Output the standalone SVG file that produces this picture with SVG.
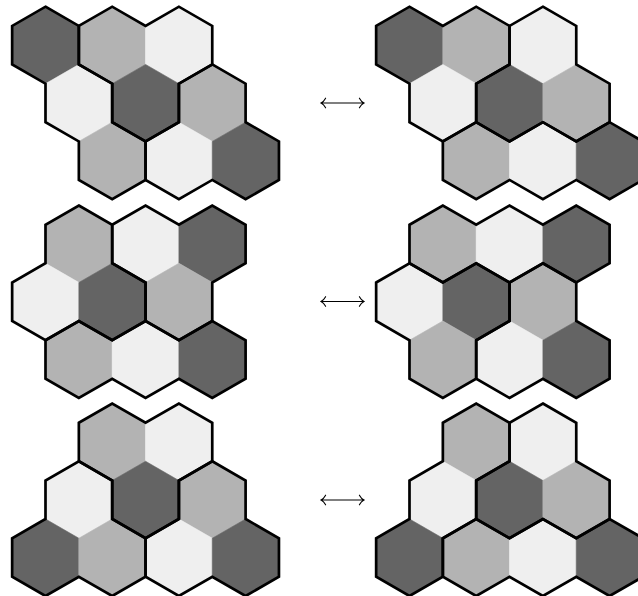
<svg xmlns="http://www.w3.org/2000/svg" width="638" height="596" viewBox="0 0 638 596">
<style>
.dk{fill:#646464;stroke:#646464}
.md{fill:#b3b3b3;stroke:#b3b3b3}
.lt{fill:#efefef;stroke:#efefef}
.tile{fill:none;stroke:#000000;stroke-width:2.7;stroke-linejoin:miter;vector-effect:non-scaling-stroke}
.arr{fill:none;stroke:#000000;stroke-width:1.1;stroke-linecap:round}
</style>
<defs>
<polygon id="h" points="0,-2 1,-1 1,1 0,2 -1,1 -1,-1" stroke-width="0.6" style="vector-effect:non-scaling-stroke"/>
<g id="cells1">
<use href="#h" x="1" y="2" class="dk"/><use href="#h" x="3" y="2" class="md"/><use href="#h" x="5" y="2" class="lt"/>
<use href="#h" x="2" y="5" class="lt"/><use href="#h" x="4" y="5" class="dk"/><use href="#h" x="6" y="5" class="md"/>
<use href="#h" x="3" y="8" class="md"/><use href="#h" x="5" y="8" class="lt"/><use href="#h" x="7" y="8" class="dk"/>
</g>
<g id="cells2">
<use href="#h" x="2" y="2" class="md"/><use href="#h" x="4" y="2" class="lt"/><use href="#h" x="6" y="2" class="dk"/>
<use href="#h" x="1" y="5" class="lt"/><use href="#h" x="3" y="5" class="dk"/><use href="#h" x="5" y="5" class="md"/>
<use href="#h" x="2" y="8" class="md"/><use href="#h" x="4" y="8" class="lt"/><use href="#h" x="6" y="8" class="dk"/>
</g>
<g id="cells3">
<use href="#h" x="3" y="2" class="md"/><use href="#h" x="5" y="2" class="lt"/>
<use href="#h" x="2" y="5" class="lt"/><use href="#h" x="4" y="5" class="dk"/><use href="#h" x="6" y="5" class="md"/>
<use href="#h" x="1" y="8" class="dk"/><use href="#h" x="3" y="8" class="md"/><use href="#h" x="5" y="8" class="lt"/><use href="#h" x="7" y="8" class="dk"/>
</g>
</defs>

<g id="panel1-left" transform="translate(12.15,6.7) scale(33.35,19.25)">
<use href="#cells1"/>
<path id="t1a" class="tile" d="M1,0 L2,1 L2,3 L3,4 L3,6 L4,7 L4,9 L3,10 L2,9 L2,7 L1,6 L1,4 L0,3 L0,1 Z"/>
<path id="t1b" class="tile" d="M2,1 L3,0 L4,1 L5,0 L6,1 L6,3 L5,4 L5,6 L4,7 L3,6 L3,4 L2,3 Z"/>
<path id="t1c" class="tile" d="M6,3 L7,4 L7,6 L8,7 L8,9 L7,10 L6,9 L5,10 L4,9 L4,7 L5,6 L5,4 Z"/>
</g>

<g id="panel1-right" transform="translate(376.15,6.7) scale(33.35,19.25)">
<use href="#cells1"/>
<path id="t1d" class="tile" d="M0,1 L1,0 L2,1 L3,0 L4,1 L4,3 L3,4 L3,6 L2,7 L1,6 L1,4 L0,3 Z"/>
<path id="t1e" class="tile" d="M5,0 L6,1 L6,3 L7,4 L7,6 L6,7 L5,6 L4,7 L3,6 L3,4 L4,3 L4,1 Z"/>
<path id="t1f" class="tile" d="M2,7 L3,6 L4,7 L5,6 L6,7 L7,6 L8,7 L8,9 L7,10 L6,9 L5,10 L4,9 L3,10 L2,9 Z"/>
</g>

<g id="panel2-left" transform="translate(12.15,205.5) scale(33.35,19.25)">
<use href="#cells2"/>
<path id="t2a" class="tile" d="M2,0 L3,1 L3,3 L4,4 L4,6 L3,7 L2,6 L1,7 L0,6 L0,4 L1,3 L1,1 Z"/>
<path id="t2b" class="tile" d="M3,1 L4,0 L5,1 L6,0 L7,1 L7,3 L6,4 L6,6 L5,7 L4,6 L4,4 L3,3 Z"/>
<path id="t2c" class="tile" d="M1,7 L2,6 L3,7 L4,6 L5,7 L6,6 L7,7 L7,9 L6,10 L5,9 L4,10 L3,9 L2,10 L1,9 Z"/>
</g>

<g id="panel2-right" transform="translate(376.15,205.5) scale(33.35,19.25)">
<use href="#cells2"/>
<path id="t2d" class="tile" d="M1,1 L2,0 L3,1 L4,0 L5,1 L6,0 L7,1 L7,3 L6,4 L5,3 L4,4 L3,3 L2,4 L1,3 Z"/>
<path id="t2e" class="tile" d="M0,4 L1,3 L2,4 L3,3 L4,4 L4,6 L3,7 L3,9 L2,10 L1,9 L1,7 L0,6 Z"/>
<path id="t2f" class="tile" d="M5,3 L6,4 L6,6 L7,7 L7,9 L6,10 L5,9 L4,10 L3,9 L3,7 L4,6 L4,4 Z"/>
</g>

<g id="panel3-left" transform="translate(12.15,403.5) scale(33.35,19.25)">
<use href="#cells3"/>
<path id="t3a" class="tile" d="M2,1 L3,0 L4,1 L5,0 L6,1 L6,3 L5,4 L5,6 L4,7 L3,6 L3,4 L2,3 Z"/>
<path id="t3b" class="tile" d="M2,3 L3,4 L3,6 L4,7 L4,9 L3,10 L2,9 L1,10 L0,9 L0,7 L1,6 L1,4 Z"/>
<path id="t3c" class="tile" d="M6,3 L7,4 L7,6 L8,7 L8,9 L7,10 L6,9 L5,10 L4,9 L4,7 L5,6 L5,4 Z"/>
</g>

<g id="panel3-right" transform="translate(376.15,403.5) scale(33.35,19.25)">
<use href="#cells3"/>
<path id="t3d" class="tile" d="M2,1 L3,0 L4,1 L4,3 L3,4 L3,6 L2,7 L2,9 L1,10 L0,9 L0,7 L1,6 L1,4 L2,3 Z"/>
<path id="t3e" class="tile" d="M2,7 L3,6 L4,7 L5,6 L6,7 L7,6 L8,7 L8,9 L7,10 L6,9 L5,10 L4,9 L3,10 L2,9 Z"/>
<path id="t3f" class="tile" d="M5,0 L6,1 L6,3 L7,4 L7,6 L6,7 L5,6 L4,7 L3,6 L3,4 L4,3 L4,1 Z"/>
</g>

<g id="connectors">
<path id="arrow1" class="arr" d="M321.5,103 H363.5 M325.6,98.2 Q323.8,101.6 321,103 Q323.8,104.4 325.6,107.8 M359.4,98.2 Q361.2,101.6 364,103 Q361.2,104.4 359.4,107.8"/>
<path id="arrow2" class="arr" d="M321.5,301.5 H363.5 M325.6,296.7 Q323.8,300.1 321,301.5 Q323.8,302.9 325.6,306.3 M359.4,296.7 Q361.2,300.1 364,301.5 Q361.2,302.9 359.4,306.3"/>
<path id="arrow3" class="arr" d="M321.5,500 H363.5 M325.6,495.2 Q323.8,498.6 321,500 Q323.8,501.4 325.6,504.8 M359.4,495.2 Q361.2,498.6 364,500 Q361.2,501.4 359.4,504.8"/>
</g>
</svg>
